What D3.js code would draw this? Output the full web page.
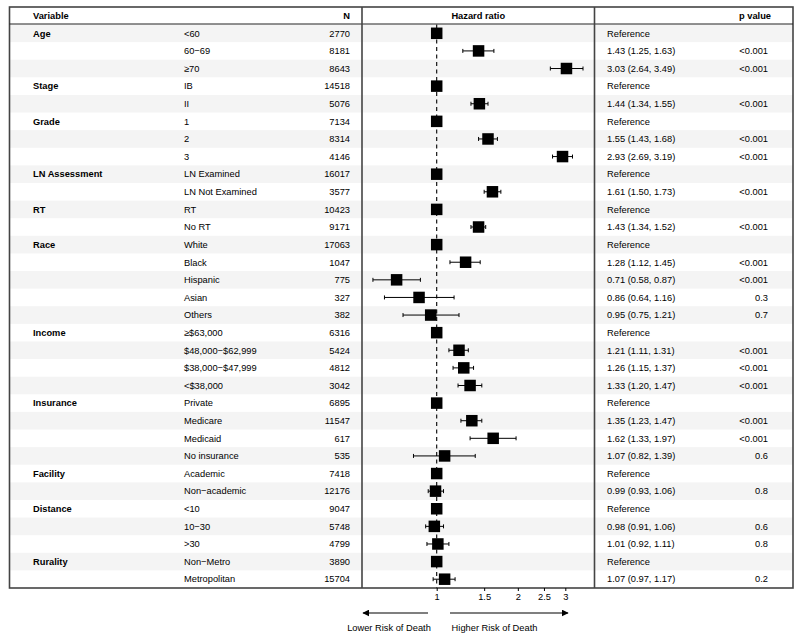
<!DOCTYPE html>
<html><head><meta charset="utf-8">
<script src="https://cdn.jsdelivr.net/npm/d3@7"></script>
<style>body{margin:0;background:#fff}svg{display:block}text{font-family:"Liberation Sans",Arial,sans-serif;font-size:9.3px;fill:#000}</style>
</head><body>
<svg id="c" width="800" height="633"></svg>
<script>
const groups = ["Age","","","Stage","","Grade","","","LN Assessment","","RT","","Race","","","","","Income","","","","Insurance","","","","Facility","","Distance","","","Rurality",""];
const levels = ["<60","60\u221269","\u226570","IB","II","1","2","3","LN Examined","LN Not Examined","RT","No RT","White","Black","Hispanic","Asian","Others","\u2265$63,000","$48,000\u2212$62,999","$38,000\u2212$47,999","<$38,000","Private","Medicare","Medicaid","No insurance","Academic","Non\u2212academic","<10","10\u221230",">30","Non\u2212Metro","Metropolitan"];
const counts = [2770,8181,8643,14518,5076,7134,8314,4146,16017,3577,10423,9171,17063,1047,775,327,382,6316,5424,4812,3042,6895,11547,617,535,7418,12176,9047,5748,4799,3890,15704];
const hr    = [1,1.43,3.03,1,1.44,1,1.55,2.93,1,1.61,1,1.43,1,1.28,0.71,0.86,0.95,1,1.21,1.26,1.33,1,1.35,1.62,1.07,1,0.99,1,0.98,1.01,1,1.07];
const lower = [null,1.25,2.64,null,1.34,null,1.43,2.69,null,1.50,null,1.34,null,1.12,0.58,0.64,0.75,null,1.11,1.15,1.20,null,1.23,1.33,0.82,null,0.93,null,0.91,0.92,null,0.97];
const upper = [null,1.63,3.49,null,1.55,null,1.68,3.19,null,1.73,null,1.52,null,1.45,0.87,1.16,1.21,null,1.31,1.37,1.47,null,1.47,1.97,1.39,null,1.06,null,1.06,1.11,null,1.17];
const pvals = ["","<0.001","<0.001","","<0.001","","<0.001","<0.001","","<0.001","","<0.001","","<0.001","<0.001","0.3","0.7","","<0.001","<0.001","<0.001","","<0.001","<0.001","0.6","","0.8","","0.6","0.8","","0.2"];
const tickVals = [1,1.5,2,2.5,3];

const svg = d3.select("#c");
const L = 9.5, R = 793, T = 7, HB = 24.5, B = 588;
const D1 = 362, D2 = 594.5;
const n = levels.length;
const y = d3.scaleBand().domain(d3.range(n)).range([HB, B]).padding(0);
const x = d3.scaleLog().domain([1,3]).range([436.7, 565.3]);

// row shading
svg.append("g").selectAll("rect").data(d3.range(n).filter(i=>i%2===0)).join("rect")
  .attr("x", L).attr("width", R-L).attr("y", i=>y(i)).attr("height", y.bandwidth())
  .attr("fill", "#f4f4f4");

// dashed reference line
svg.append("line").attr("x1", x(1)).attr("x2", x(1)).attr("y1", HB).attr("y2", B)
  .attr("stroke", "#000").attr("stroke-width", 1.1).attr("stroke-dasharray", "4,3.5");

// whiskers
const ci = d3.range(n).filter(i=>lower[i]!==null);
const wg = svg.append("g").attr("stroke", "#000").attr("stroke-width", 1);
wg.selectAll("line.h").data(ci).join("line").attr("class","h")
  .attr("x1", i=>x(lower[i])).attr("x2", i=>x(upper[i]))
  .attr("y1", i=>y(i)+y.bandwidth()/2).attr("y2", i=>y(i)+y.bandwidth()/2);
wg.selectAll("line.l").data(ci).join("line").attr("class","l")
  .attr("x1", i=>x(lower[i])).attr("x2", i=>x(lower[i]))
  .attr("y1", i=>y(i)+y.bandwidth()/2-2).attr("y2", i=>y(i)+y.bandwidth()/2+2);
wg.selectAll("line.u").data(ci).join("line").attr("class","u")
  .attr("x1", i=>x(upper[i])).attr("x2", i=>x(upper[i]))
  .attr("y1", i=>y(i)+y.bandwidth()/2-2).attr("y2", i=>y(i)+y.bandwidth()/2+2);

// squares
const sq = 11.5;
svg.append("g").selectAll("rect").data(d3.range(n)).join("rect")
  .attr("x", i=>x(hr[i])-sq/2).attr("y", i=>y(i)+y.bandwidth()/2-sq/2)
  .attr("width", sq).attr("height", sq).attr("fill", "#000");

// texts
const tg = svg.append("g");
const cy = i=>y(i)+y.bandwidth()/2+3.3;
tg.selectAll("text.g").data(d3.range(n).filter(i=>groups[i])).join("text").attr("class","g")
  .attr("x", 33).attr("y", cy).attr("font-weight","bold").text(i=>groups[i]);
tg.selectAll("text.lv").data(d3.range(n)).join("text").attr("class","lv")
  .attr("x", 184).attr("y", cy).text(i=>levels[i]);
tg.selectAll("text.n").data(d3.range(n)).join("text").attr("class","n")
  .attr("x", 350).attr("y", cy).attr("text-anchor","end").text(i=>counts[i]);
tg.selectAll("text.hr").data(d3.range(n)).join("text").attr("class","hr")
  .attr("x", 607).attr("y", cy)
  .text(i=>lower[i]===null ? "Reference" : `${hr[i].toFixed(2)} (${lower[i].toFixed(2)}, ${upper[i].toFixed(2)})`);
tg.selectAll("text.p").data(d3.range(n)).join("text").attr("class","p")
  .attr("x", 768).attr("y", cy).attr("text-anchor","end").text(i=>pvals[i]);

// header
const hy = 18.5;
svg.append("text").attr("x",33).attr("y",hy).attr("font-weight","bold").text("Variable");
svg.append("text").attr("x",350).attr("y",hy).attr("text-anchor","end").attr("font-weight","bold").text("N");
svg.append("text").attr("x",(D1+D2)/2).attr("y",hy).attr("text-anchor","middle").attr("font-weight","bold").text("Hazard ratio");
svg.append("text").attr("x",771).attr("y",hy).attr("text-anchor","end").attr("font-weight","bold").text("p value");

// borders
const bc = "#444";
svg.append("rect").attr("x",L).attr("y",T).attr("width",R-L).attr("height",B-T)
  .attr("fill","none").attr("stroke",bc).attr("stroke-width",1.6);
svg.append("line").attr("x1",L).attr("x2",R).attr("y1",HB-0.5).attr("y2",HB-0.5).attr("stroke","#222").attr("stroke-width",1);
[D1,D2].forEach(d=>svg.append("line").attr("x1",d).attr("x2",d).attr("y1",T).attr("y2",B).attr("stroke",bc).attr("stroke-width",1.6));

// axis
const ax = svg.append("g").attr("transform",`translate(0,${B})`)
  .call(d3.axisBottom(x).tickValues(tickVals).tickFormat(d3.format("")).tickSize(3).tickPadding(2));
ax.select(".domain").remove();
ax.selectAll("text").style("font-family","'Liberation Sans',Arial,sans-serif").style("font-size","9.3px").attr("fill","#000");
ax.selectAll("line").attr("stroke","#000");

// arrows
const defs = svg.append("defs");
defs.append("marker").attr("id","ah").attr("viewBox","0 0 10 10").attr("refX",9).attr("refY",5)
  .attr("markerWidth",7).attr("markerHeight",7).attr("markerUnits","userSpaceOnUse").attr("orient","auto")
  .append("path").attr("d","M0,0L10,5L0,10Z").attr("fill","#000");
const ay = 613;
svg.append("line").attr("x1",428).attr("x2",363).attr("y1",ay).attr("y2",ay).attr("stroke","#000").attr("stroke-width",1.1).attr("marker-end","url(#ah)");
svg.append("line").attr("x1",450).attr("x2",568).attr("y1",ay).attr("y2",ay).attr("stroke","#000").attr("stroke-width",1.1).attr("marker-end","url(#ah)");
svg.append("text").attr("x",389).attr("y",631).attr("text-anchor","middle").text("Lower Risk of Death");
svg.append("text").attr("x",494.5).attr("y",631).attr("text-anchor","middle").text("Higher Risk of Death");
</script>
</body></html>
